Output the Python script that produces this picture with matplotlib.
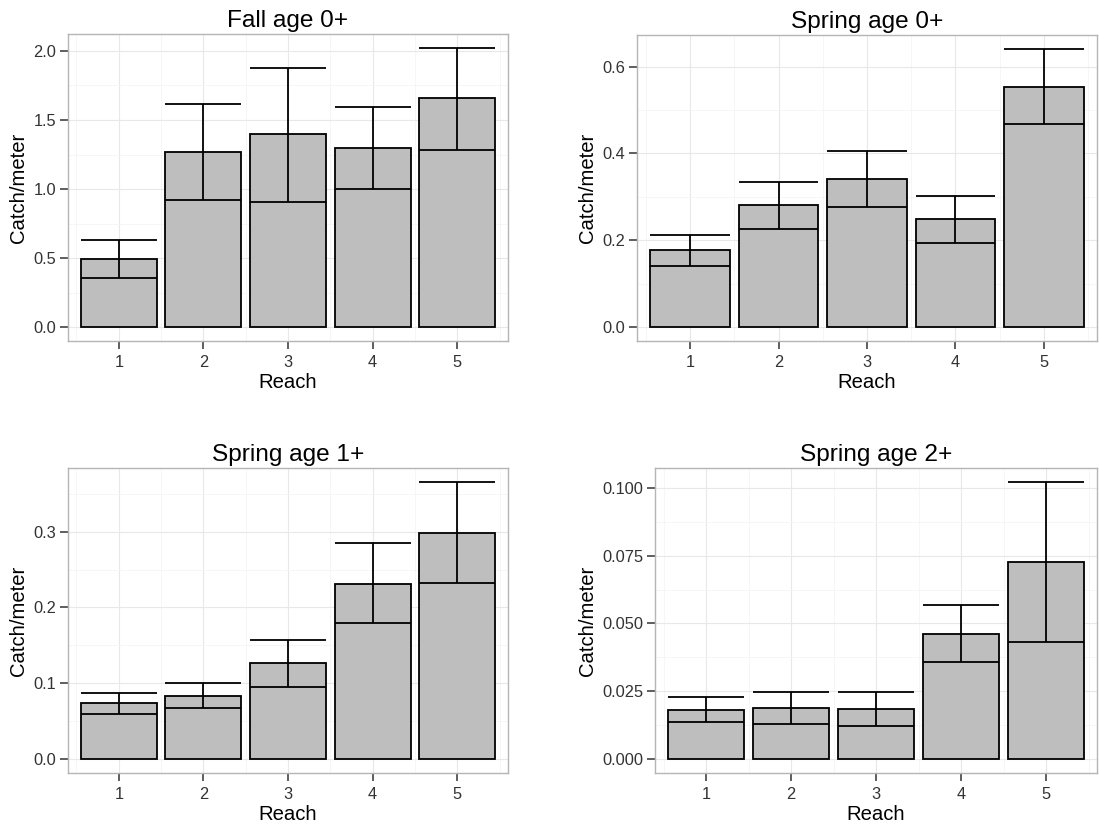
import numpy as np
import matplotlib.pyplot as plt
from matplotlib.ticker import FormatStrFormatter

plt.rcParams['font.family'] = ['Liberation Sans', 'DejaVu Sans']

reach = [1, 2, 3, 4, 5]

titles = ["Fall age 0+", "Spring age 0+", "Spring age 1+", "Spring age 2+"]

fall0_mean = [0.494, 1.269, 1.395, 1.298, 1.656]
fall0_lo = [0.354, 0.920, 0.908, 0.998, 1.286]
fall0_hi = [0.632, 1.615, 1.879, 1.596, 2.022]

spring0_mean = [0.177, 0.282, 0.341, 0.248, 0.554]
spring0_lo = [0.141, 0.227, 0.276, 0.194, 0.469]
spring0_hi = [0.212, 0.335, 0.405, 0.302, 0.641]

spring1_mean = [0.0735, 0.0835, 0.1264, 0.2313, 0.2987]
spring1_lo = [0.0599, 0.0669, 0.0953, 0.1789, 0.2322]
spring1_hi = [0.0870, 0.1006, 0.1574, 0.2851, 0.3656]

spring2_mean = [0.0182, 0.0188, 0.0185, 0.0463, 0.0726]
spring2_lo = [0.0138, 0.0130, 0.0122, 0.0358, 0.0432]
spring2_hi = [0.0229, 0.0247, 0.0249, 0.0568, 0.1022]

panels = [
    (fall0_mean, fall0_lo, fall0_hi, [0.0, 0.5, 1.0, 1.5, 2.0], '%.1f'),
    (spring0_mean, spring0_lo, spring0_hi, [0.0, 0.2, 0.4, 0.6], '%.1f'),
    (spring1_mean, spring1_lo, spring1_hi, [0.0, 0.1, 0.2, 0.3], '%.1f'),
    (spring2_mean, spring2_lo, spring2_hi, [0.0, 0.025, 0.05, 0.075, 0.1], '%.3f'),
]

W, H = 1099, 827
# axes boxes in pixels: left, top, right, bottom
boxes = [
    (68, 34, 508, 341),
    (637, 35, 1097, 341),
    (68, 468, 508, 773),
    (655, 468, 1097, 773),
]

fig = plt.figure(figsize=(W / 100, H / 100), dpi=100)

for (mean, lo, hi, yt, fmt), title, (l, t, r, b) in zip(panels, titles, boxes):
    ax = fig.add_axes([l / W, 1 - b / H, (r - l) / W, (b - t) / H])
    x = np.array(reach)
    mean = np.array(mean)
    lo = np.array(lo)
    hi = np.array(hi)

    ax.bar(x, mean, width=0.9, color='#bebebe', edgecolor='black',
           linewidth=1.3, zorder=2)
    # error bars: vertical stem plus full-width caps
    ax.vlines(x, lo, hi, color='black', linewidth=1.3, zorder=3)
    ax.hlines(lo, x - 0.45, x + 0.45, color='black', linewidth=1.3, zorder=3)
    ax.hlines(hi, x - 0.45, x + 0.45, color='black', linewidth=1.3, zorder=3)

    top = hi.max()
    pad = top * 0.05
    ax.set_ylim(-pad, top + pad)
    ax.set_xlim(0.4, 5.6)

    ax.set_xticks(reach)
    ax.set_xticklabels([str(v) for v in reach])
    ax.set_yticks(yt)
    ax.yaxis.set_major_formatter(FormatStrFormatter(fmt))
    ax.set_xticks(np.arange(0.5, 6, 1.0), minor=True)
    step = yt[1] - yt[0]
    ax.set_yticks(np.arange(yt[0] + step / 2, top + pad, step), minor=True)

    ax.grid(which='major', color='#e8e8e8', linewidth=0.8, zorder=0)
    ax.grid(which='minor', color='#f5f5f5', linewidth=0.6, zorder=0)
    ax.set_axisbelow(True)

    for s in ax.spines.values():
        s.set_color('#b5b5b5')
        s.set_linewidth(1.0)

    ax.tick_params(which='major', length=5.5, width=1.1, color='#333333',
                   labelsize=11.8, labelcolor='#333333', pad=3)
    ax.tick_params(axis='x', which='major', pad=4.5)
    ax.tick_params(which='minor', length=0)

    ax.set_title(title, fontsize=17.6, pad=5)
    ax.set_xlabel("Reach", fontsize=14.6, labelpad=2.5)
    ax.set_ylabel("Catch/meter", fontsize=14.6, labelpad=3.5)

fig.savefig("out.png", dpi=100)
